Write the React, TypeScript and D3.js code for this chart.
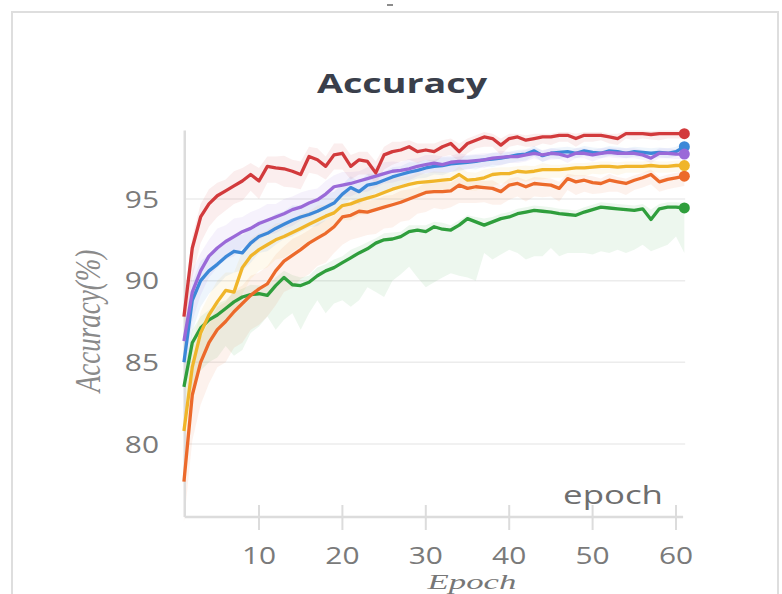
import React from 'react';
import * as d3 from 'd3';

const EPOCHS = Array.from({ length: 61 }, (_, i) => i + 1);
const Y_TICKS = [80, 85, 90, 95];
const X_TICKS = [10, 20, 30, 40, 50, 60];

const RED = [87.8, 92.0, 93.9, 94.7, 95.2, 95.5, 95.8, 96.1, 96.5, 96.1, 97.0, 96.9, 96.85, 96.7, 96.5, 97.6, 97.4, 97.0, 97.7, 97.8, 97.0, 97.4, 97.3, 96.6, 97.7, 97.9, 98.0, 98.2, 97.9, 98.0, 97.9, 98.2, 98.4, 97.9, 98.4, 98.6, 98.8, 98.7, 98.3, 98.7, 98.8, 98.6, 98.7, 98.8, 98.8, 98.9, 98.9, 98.7, 98.9, 98.9, 98.9, 98.8, 98.7, 99.0, 99.0, 99.0, 98.95, 99.0, 99.0, 99.0, 99.0];
const RED_DN = [1.5, 1.8, 1.6, 1.4, 1.3, 1.2, 1.1, 1.2, 1.0, 1.1, 1.0, 0.9, 1.1, 1.0, 0.9, 1.0, 0.9, 0.8, 0.9, 1.0, 0.8, 0.9, 0.8, 0.7, 0.9, 0.8, 0.7, 0.8, 0.7, 0.6, 0.7, 0.6, 0.7, 0.6, 0.6, 0.5, 0.6, 0.5, 0.6, 0.5, 0.5, 0.4, 0.5, 0.4, 0.5, 0.4, 0.4, 0.5, 0.4, 0.4, 0.3, 0.4, 0.4, 0.3, 0.4, 0.3, 0.3, 0.4, 0.3, 0.3, 0.3];
const RED_UP = [0.8, 0.7, 0.8, 0.9, 0.8, 0.7, 0.9, 0.8, 0.7, 0.8, 0.6, 0.7, 0.8, 0.7, 0.8, 0.6, 0.7, 0.6, 0.7, 0.6, 0.7, 0.5, 0.6, 0.7, 0.5, 0.6, 0.5, 0.4, 0.5, 0.4, 0.5, 0.4, 0.3, 0.5, 0.3, 0.3, 0.3, 0.3, 0.4, 0.3, 0.2, 0.3, 0.3, 0.2, 0.2, 0.2, 0.2, 0.3, 0.2, 0.2, 0.2, 0.2, 0.3, 0.2, 0.2, 0.2, 0.2, 0.2, 0.2, 0.2, 0.2];

const PURPLE = [86.3, 89.3, 90.6, 91.5, 92.0, 92.4, 92.7, 93.0, 93.2, 93.5, 93.7, 93.9, 94.1, 94.35, 94.5, 94.75, 94.95, 95.3, 95.75, 95.85, 95.95, 96.1, 96.25, 96.4, 96.55, 96.7, 96.75, 96.85, 97.0, 97.1, 97.2, 97.1, 97.25, 97.3, 97.3, 97.35, 97.4, 97.5, 97.55, 97.6, 97.6, 97.7, 97.8, 97.7, 97.8, 97.75, 97.6, 97.8, 97.8, 97.7, 97.8, 97.85, 97.8, 97.8, 97.8, 97.7, 97.5, 97.8, 97.8, 97.75, 97.75];
const PURPLE_DN = [2.0, 1.8, 1.5, 1.3, 1.2, 1.1, 1.2, 1.0, 1.1, 1.0, 0.9, 1.0, 0.9, 1.0, 0.8, 0.9, 0.8, 0.9, 0.8, 0.7, 0.8, 0.7, 0.8, 0.7, 0.6, 0.7, 0.6, 0.7, 0.6, 0.5, 0.6, 0.5, 0.6, 0.5, 0.5, 0.4, 0.5, 0.4, 0.5, 0.4, 0.4, 0.4, 0.3, 0.4, 0.4, 0.3, 0.4, 0.3, 0.3, 0.4, 0.3, 0.3, 0.3, 0.3, 0.3, 0.3, 0.3, 0.3, 0.3, 0.3, 0.3];
const PURPLE_UP = [1.2, 1.3, 1.1, 1.0, 1.2, 1.0, 1.1, 0.9, 1.0, 0.9, 1.0, 0.8, 0.9, 0.8, 0.9, 0.8, 0.7, 0.8, 0.7, 0.8, 0.7, 0.6, 0.7, 0.6, 0.7, 0.6, 0.5, 0.6, 0.5, 0.6, 0.5, 0.5, 0.4, 0.5, 0.4, 0.4, 0.4, 0.3, 0.4, 0.3, 0.3, 0.3, 0.3, 0.3, 0.3, 0.3, 0.3, 0.3, 0.3, 0.3, 0.3, 0.3, 0.3, 0.3, 0.3, 0.3, 0.3, 0.3, 0.3, 0.3, 0.3];

const BLUE = [85.0, 88.8, 90.0, 90.6, 91.0, 91.45, 91.8, 91.7, 92.3, 92.7, 92.9, 93.2, 93.45, 93.7, 93.9, 94.05, 94.25, 94.5, 94.75, 95.3, 95.7, 95.45, 95.85, 95.95, 96.15, 96.35, 96.5, 96.65, 96.75, 96.9, 97.0, 97.05, 97.15, 97.2, 97.25, 97.3, 97.4, 97.45, 97.5, 97.6, 97.7, 97.75, 97.95, 97.65, 97.8, 97.85, 97.9, 97.8, 97.95, 97.85, 97.8, 97.95, 97.9, 97.8, 97.9, 97.85, 97.8, 97.85, 97.8, 97.9, 98.2];
const BLUE_DN = [2.2, 1.9, 1.6, 1.4, 1.3, 1.2, 1.3, 1.1, 1.2, 1.0, 1.1, 1.0, 0.9, 1.0, 0.9, 0.8, 0.9, 0.8, 0.7, 0.8, 0.7, 0.8, 0.7, 0.6, 0.7, 0.6, 0.7, 0.6, 0.5, 0.6, 0.5, 0.6, 0.5, 0.5, 0.4, 0.5, 0.4, 0.5, 0.4, 0.4, 0.4, 0.4, 0.3, 0.4, 0.3, 0.4, 0.3, 0.3, 0.3, 0.3, 0.3, 0.3, 0.3, 0.3, 0.3, 0.3, 0.3, 0.3, 0.3, 0.3, 0.3];
const BLUE_UP = [1.3, 1.1, 1.2, 1.0, 1.1, 0.9, 1.0, 1.1, 0.9, 1.0, 0.8, 0.9, 0.8, 0.9, 0.7, 0.8, 0.7, 0.8, 0.7, 0.6, 0.7, 0.6, 0.7, 0.6, 0.5, 0.6, 0.5, 0.6, 0.5, 0.5, 0.4, 0.5, 0.4, 0.4, 0.4, 0.4, 0.3, 0.4, 0.3, 0.3, 0.3, 0.3, 0.3, 0.3, 0.3, 0.3, 0.3, 0.3, 0.3, 0.3, 0.3, 0.3, 0.3, 0.3, 0.3, 0.3, 0.3, 0.3, 0.3, 0.3, 0.3];

const YELLOW = [80.8, 84.7, 86.8, 87.9, 88.7, 89.4, 89.3, 90.8, 91.5, 91.9, 92.2, 92.5, 92.7, 92.95, 93.2, 93.45, 93.7, 93.95, 94.15, 94.6, 94.7, 94.9, 95.05, 95.2, 95.4, 95.6, 95.75, 95.9, 96.0, 96.05, 96.1, 96.15, 96.2, 96.5, 96.15, 96.2, 96.3, 96.5, 96.55, 96.55, 96.7, 96.65, 96.7, 96.8, 96.8, 96.8, 96.85, 96.9, 96.9, 96.95, 97.0, 97.0, 96.95, 97.0, 97.0, 97.0, 97.05, 97.0, 97.0, 97.05, 97.05];
const YELLOW_DN = [2.5, 2.2, 2.0, 1.8, 1.6, 1.7, 1.5, 1.6, 1.4, 1.3, 1.4, 1.2, 1.3, 1.2, 1.1, 1.2, 1.0, 1.1, 1.0, 0.9, 1.0, 0.9, 1.0, 0.8, 0.9, 0.8, 0.9, 0.8, 0.7, 0.8, 0.7, 0.8, 0.7, 0.8, 0.6, 0.7, 0.6, 0.7, 0.6, 0.6, 0.5, 0.6, 0.5, 0.6, 0.5, 0.5, 0.5, 0.5, 0.5, 0.4, 0.5, 0.4, 0.5, 0.4, 0.4, 0.4, 0.4, 0.4, 0.4, 0.4, 0.4];
const YELLOW_UP = [1.5, 1.4, 1.3, 1.2, 1.3, 1.1, 1.2, 1.0, 1.1, 1.0, 0.9, 1.0, 0.9, 0.8, 0.9, 0.8, 0.9, 0.7, 0.8, 0.7, 0.8, 0.7, 0.6, 0.7, 0.6, 0.7, 0.6, 0.5, 0.6, 0.5, 0.6, 0.5, 0.4, 0.5, 0.5, 0.4, 0.5, 0.4, 0.4, 0.4, 0.3, 0.4, 0.3, 0.4, 0.3, 0.3, 0.3, 0.3, 0.3, 0.3, 0.3, 0.3, 0.3, 0.3, 0.3, 0.3, 0.3, 0.3, 0.3, 0.3, 0.3];

const ORANGE = [77.7, 83.0, 85.0, 86.2, 87.0, 87.5, 88.1, 88.6, 89.1, 89.5, 89.8, 90.6, 91.2, 91.55, 91.9, 92.3, 92.6, 92.9, 93.3, 93.9, 94.0, 94.25, 94.2, 94.35, 94.5, 94.65, 94.8, 95.0, 95.2, 95.4, 95.45, 95.45, 95.5, 95.85, 95.65, 95.75, 95.7, 95.65, 95.45, 95.85, 95.95, 95.75, 95.95, 95.9, 95.85, 95.65, 96.25, 96.05, 96.15, 96.0, 95.95, 96.15, 96.05, 95.95, 96.15, 96.3, 96.5, 96.05, 96.2, 96.3, 96.4];
const ORANGE_DN = [2.5, 2.8, 2.6, 2.5, 2.3, 2.5, 2.2, 2.4, 2.1, 2.2, 2.0, 2.1, 1.9, 2.0, 1.8, 1.9, 1.7, 1.8, 1.6, 1.7, 1.5, 1.6, 1.4, 1.5, 1.3, 1.4, 1.2, 1.3, 1.1, 1.2, 1.0, 1.1, 1.0, 1.1, 0.9, 1.0, 0.9, 1.0, 0.8, 0.9, 0.8, 0.9, 0.8, 0.8, 0.7, 0.8, 0.7, 0.8, 0.7, 0.7, 0.6, 0.7, 0.6, 0.7, 0.6, 0.6, 0.6, 0.6, 0.6, 0.6, 0.6];
const ORANGE_UP = [1.5, 1.4, 1.5, 1.3, 1.4, 1.2, 1.3, 1.1, 1.2, 1.0, 1.1, 1.0, 0.9, 1.0, 0.9, 0.8, 0.9, 0.8, 0.7, 0.8, 0.7, 0.8, 0.7, 0.6, 0.7, 0.6, 0.7, 0.6, 0.5, 0.6, 0.5, 0.6, 0.5, 0.5, 0.4, 0.5, 0.4, 0.5, 0.4, 0.4, 0.4, 0.4, 0.4, 0.4, 0.4, 0.4, 0.3, 0.4, 0.3, 0.4, 0.3, 0.4, 0.3, 0.3, 0.3, 0.3, 0.3, 0.3, 0.3, 0.3, 0.3];

const GREEN = [83.5, 86.2, 87.1, 87.6, 87.9, 88.3, 88.7, 89.0, 89.15, 89.2, 89.1, 89.7, 90.2, 89.75, 89.7, 89.9, 90.3, 90.6, 90.8, 91.1, 91.4, 91.7, 91.95, 92.3, 92.5, 92.55, 92.7, 93.0, 93.1, 93.0, 93.3, 93.15, 93.1, 93.4, 93.8, 93.6, 93.4, 93.6, 93.8, 93.9, 94.1, 94.2, 94.3, 94.25, 94.2, 94.1, 94.05, 94.0, 94.2, 94.35, 94.5, 94.45, 94.4, 94.35, 94.3, 94.4, 93.75, 94.4, 94.5, 94.5, 94.45];
const GREEN_DN = [2.0, 2.7, 2.6, 2.6, 2.6, 2.3, 3.3, 3.25, 2.35, 2.0, 1.3, 2.7, 2.6, 1.75, 2.7, 1.9, 1.5, 2.6, 2.2, 2.3, 3.0, 2.9, 2.35, 3.0, 3.5, 2.55, 2.3, 2.15, 2.9, 3.4, 3.4, 2.95, 2.65, 3.1, 3.6, 3.6, 1.7, 2.3, 2.2, 2.0, 2.4, 2.9, 2.8, 2.75, 2.2, 2.6, 2.35, 2.3, 2.5, 2.75, 2.7, 2.75, 2.5, 2.65, 2.4, 2.2, 1.95, 2.4, 2.3, 1.8, 2.75];
const GREEN_UP = [1.0, 0.8, 0.7, 0.6, 0.7, 0.5, 0.6, 0.5, 0.6, 0.5, 0.6, 0.5, 0.4, 0.6, 0.5, 0.4, 0.5, 0.4, 0.5, 0.4, 0.5, 0.4, 0.4, 0.3, 0.4, 0.4, 0.3, 0.4, 0.3, 0.4, 0.3, 0.4, 0.3, 0.3, 0.2, 0.3, 0.4, 0.3, 0.3, 0.3, 0.3, 0.3, 0.3, 0.3, 0.3, 0.3, 0.3, 0.3, 0.3, 0.3, 0.3, 0.3, 0.3, 0.3, 0.3, 0.3, 0.6, 0.3, 0.3, 0.3, 0.3];

const SERIES = [
  { key: 'green', color: '#2f9e3c', values: GREEN, dn: GREEN_DN, up: GREEN_UP },
  { key: 'orange', color: '#ec6a2b', values: ORANGE, dn: ORANGE_DN, up: ORANGE_UP },
  { key: 'yellow', color: '#f0b52a', values: YELLOW, dn: YELLOW_DN, up: YELLOW_UP },
  { key: 'blue', color: '#3c88d8', values: BLUE, dn: BLUE_DN, up: BLUE_UP },
  { key: 'purple', color: '#9a69d8', values: PURPLE, dn: PURPLE_DN, up: PURPLE_UP },
  { key: 'red', color: '#d23a3c', values: RED, dn: RED_DN, up: RED_UP },
];

const SANS = '"Open Sans", "Noto Sans", sans-serif';
const SERIF = '"Liberation Serif", "DejaVu Serif", serif';

export default function App() {
  const x = d3.scaleLinear().domain([0, 60]).range([175.6, 676.0]);
  const y = d3.scaleLinear().domain([80, 95]).range([444, 199]);

  const line = d3
    .line<number>()
    .x((_, i) => x(EPOCHS[i]))
    .y((d) => y(d))
    .curve(d3.curveLinear);

  const area = (s: typeof SERIES[number]) =>
    d3
      .area<number>()
      .x((_, i) => x(EPOCHS[i]))
      .y0((d, i) => y(d - s.dn[i]))
      .y1((d, i) => y(d + s.up[i]))
      .curve(d3.curveLinear)(s.values) as string;

  const xL = x(1.1);
  const xR = x(60.85);
  const yB = y(75.53);
  const yT = y(99.2);
  const sx = 1.3;
  const last = EPOCHS.length - 1;

  return (
    <svg
      width={782}
      height={594}
      style={{ position: 'absolute', left: 0, top: 0, background: '#fff' }}
    >
      {/* frame */}
      <rect x={12} y={12} width={766} height={590} fill="none" stroke="#dedede" strokeWidth={2} />
      <line x1={387} x2={393} y1={5} y2={5} stroke="#666" strokeWidth={1.5} />

      {/* title */}
      <text
        transform={`translate(402,93) scale(1.45,1)`}
        textAnchor="middle"
        fontFamily={SANS}
        fontWeight={700}
        fontSize={26}
        fill="#3a3f4b"
      >
        Accuracy
      </text>

      {/* grid */}
      {Y_TICKS.map((t) => (
        <line key={t} x1={xL} x2={x(61.1)} y1={y(t)} y2={y(t)} stroke="#ececec" strokeWidth={1.5} />
      ))}

      {/* bands */}
      {SERIES.map((s) => (
        <path key={s.key + '-band'} d={area(s)} fill={s.color} fillOpacity={0.085} stroke="none" />
      ))}

      {/* axes */}
      <line x1={xL} x2={xL} y1={yT} y2={yB} stroke="#dcdcdc" strokeWidth={2.5} />
      <line x1={xL} x2={xR} y1={yB} y2={yB} stroke="#dcdcdc" strokeWidth={2.5} />
      {X_TICKS.map((t) => (
        <line key={t} x1={x(t)} x2={x(t)} y1={yB - 12} y2={yB + 13} stroke="#dcdcdc" strokeWidth={2} />
      ))}

      {/* lines */}
      {SERIES.map((s) => (
        <path
          key={s.key}
          d={line(s.values) as string}
          fill="none"
          stroke={s.color}
          strokeWidth={3.3}
          strokeLinejoin="round"
        />
      ))}
      {SERIES.map((s) => (
        <circle key={s.key + '-dot'} cx={x(EPOCHS[last])} cy={y(s.values[last])} r={5.5} fill={s.color} />
      ))}

      {/* y tick labels */}
      {Y_TICKS.map((t) => (
        <text
          key={t}
          transform={`translate(159,${y(t) + 8.5}) scale(${sx},1)`}
          textAnchor="end"
          fontFamily={SANS}
          fontSize={23}
          fill="#7a7a7a"
        >
          {t}
        </text>
      ))}

      {/* x tick labels */}
      {X_TICKS.map((t) => (
        <text
          key={t}
          transform={`translate(${x(t)},564) scale(${sx},1)`}
          textAnchor="middle"
          fontFamily={SANS}
          fontSize={23}
          fill="#7a7a7a"
        >
          {t}
        </text>
      ))}

      <text
        transform={`translate(613,504) scale(1.34,1)`}
        textAnchor="middle"
        fontFamily={SANS}
        fontSize={26}
        fill="#6e6e6e"
      >
        epoch
      </text>

      <text
        transform={`translate(472,589) scale(1.58,1)`}
        textAnchor="middle"
        fontFamily={SERIF}
        fontStyle="italic"
        fontSize={22}
        fill="#777"
      >
        Epoch
      </text>

      <text
        transform={`translate(100,321) scale(1.3,1) rotate(-90)`}
        textAnchor="middle"
        fontFamily={SERIF}
        fontStyle="italic"
        fontSize={27}
        fill="#8a8a8a"
      >
        Accuracy(%)
      </text>
    </svg>
  );
}
